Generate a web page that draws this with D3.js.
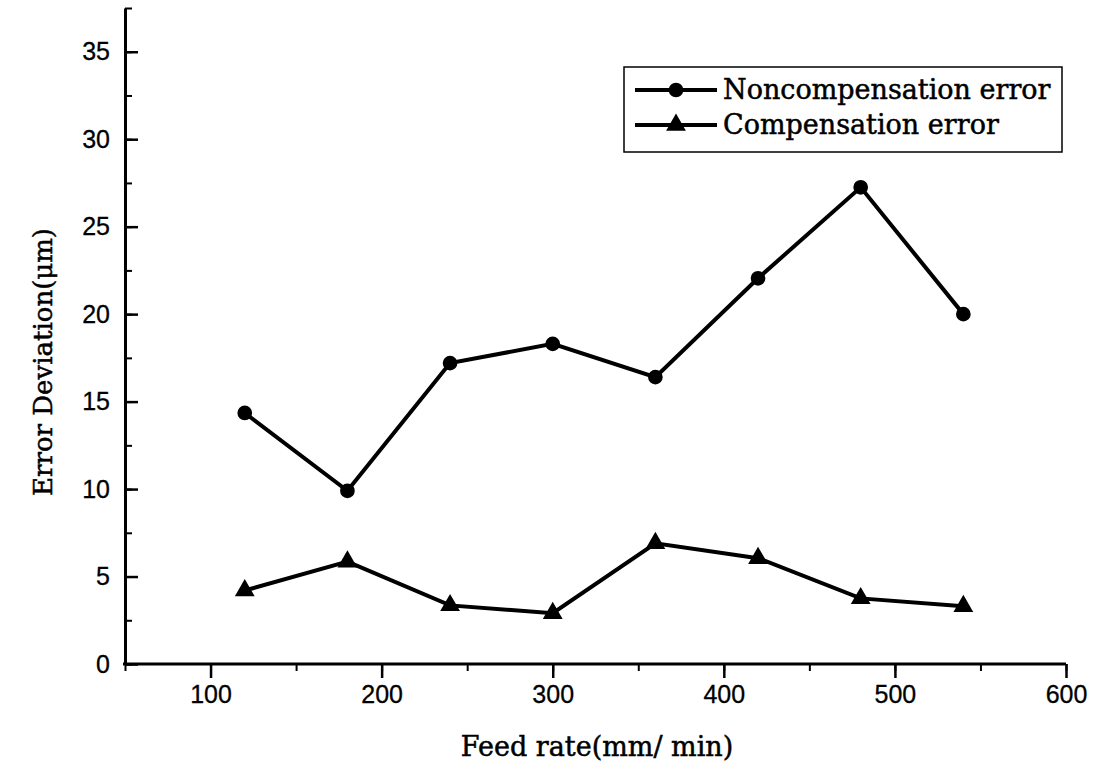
<!DOCTYPE html>
<meta charset="utf-8">
<script src="https://d3js.org/d3.v7.min.js"></script>
<style>
  body { margin: 0; background: #fff; }
  .tick text { font-family: "Liberation Sans", Arial, sans-serif; font-size: 25px; fill: #000; stroke: #000; stroke-width: 0.3px; }
  .domain, .tick line { stroke: #000; }
  .title { font-family: "DejaVu Serif", serif; fill: #000; stroke: #000; stroke-width: 0.5px; }
</style>
<div id="my_dataviz"></div>
<script>

// feed rates (mm/min)
var feedRates = [120, 180, 240, 300, 360, 420, 480, 540];
// error deviation (um)
var noncompError = [14.35, 9.9, 17.2, 18.3, 16.4, 22.05, 27.25, 20.0];
var compError    = [4.2, 5.85, 3.35, 2.9, 6.9, 6.05, 3.75, 3.3];

var seriesNames = ["Noncompensation error", "Compensation error"];
var xTicks = [100, 200, 300, 400, 500, 600];
var yTicks = [0, 5, 10, 15, 20, 25, 30, 35];

var width = 1114, height = 769;

var svg = d3.select("#my_dataviz")
  .append("svg")
    .attr("width", width)
    .attr("height", height);

var x = d3.scaleLinear().domain([50, 600]).range([125, 1066]);
var y = d3.scaleLinear().domain([0, 37.5]).range([664, 8]);

// minor ticks
svg.append("g")
  .attr("transform", "translate(0,664)")
  .call(d3.axisBottom(x).tickValues(d3.range(50, 601, 50)).tickSize(7).tickSizeOuter(0).tickFormat(""))
  .call(g => g.select(".domain").remove())
  .selectAll("line").attr("stroke-width", 2);
svg.append("g")
  .attr("transform", "translate(125,0)")
  .call(d3.axisLeft(y).tickValues(d3.range(0, 37.6, 2.5)).tickSize(-7).tickSizeOuter(0).tickFormat(""))
  .call(g => g.select(".domain").remove())
  .selectAll("line").attr("stroke-width", 2);

// X axis
svg.append("g")
  .attr("transform", "translate(0,664)")
  .call(d3.axisBottom(x).tickValues(xTicks).tickSize(14).tickSizeOuter(0).tickPadding(7))
  .call(g => g.select(".domain").attr("stroke-width", 3).attr("d", "M123,0H1066"))
  .call(g => g.selectAll(".tick line").attr("stroke-width", 2.5));

// Y axis
svg.append("g")
  .attr("transform", "translate(125,0)")
  .call(d3.axisLeft(y).tickValues(yTicks).tickSize(-13).tickSizeOuter(0).tickPadding(15))
  .call(g => g.select(".domain").attr("stroke-width", 3))
  .call(g => g.selectAll(".tick line").attr("stroke-width", 2.5));

// axis titles
svg.append("text")
  .attr("class", "title")
  .attr("x", 597)
  .attr("y", 756)
  .attr("text-anchor", "middle")
  .style("font-size", "27px")
  .text("Feed rate(mm/ min)");

svg.append("text")
  .attr("class", "title")
  .attr("transform", "translate(52,362) rotate(-90)")
  .attr("text-anchor", "middle")
  .style("font-size", "26px")
  .text("Error Deviation(\u03bcm)");

var line = d3.line()
  .x(function(d) { return x(d[0]); })
  .y(function(d) { return y(d[1]); });

var data1 = feedRates.map(function(f, i) { return [f, noncompError[i]]; });
var data2 = feedRates.map(function(f, i) { return [f, compError[i]]; });

svg.append("path")
  .datum(data1)
  .attr("fill", "none")
  .attr("stroke", "#000")
  .attr("stroke-width", 4)
  .attr("d", line);

svg.append("path")
  .datum(data2)
  .attr("fill", "none")
  .attr("stroke", "#000")
  .attr("stroke-width", 4)
  .attr("d", line);

var circleSym = d3.symbol().type(d3.symbolCircle).size(170);
var triSym = d3.symbol().type(d3.symbolTriangle).size(170);

svg.selectAll(".dot1")
  .data(data1)
  .enter()
  .append("path")
    .attr("class", "dot1")
    .attr("d", circleSym)
    .attr("transform", function(d) { return "translate(" + x(d[0]) + "," + y(d[1]) + ")"; })
    .attr("fill", "#000");

svg.selectAll(".dot2")
  .data(data2)
  .enter()
  .append("path")
    .attr("class", "dot2")
    .attr("d", triSym)
    .attr("transform", function(d) { return "translate(" + x(d[0]) + "," + y(d[1]) + ")"; })
    .attr("fill", "#000");

// legend
var legend = svg.append("g");
legend.append("rect")
  .attr("x", 624).attr("y", 67)
  .attr("width", 438).attr("height", 85)
  .attr("fill", "#fff")
  .attr("stroke", "#000")
  .attr("stroke-width", 1.5);

var syms = [circleSym, triSym];
seriesNames.forEach(function(name, i) {
  var ly = 90 + i * 35;
  legend.append("line")
    .attr("x1", 635).attr("x2", 717)
    .attr("y1", ly).attr("y2", ly)
    .attr("stroke", "#000").attr("stroke-width", 4);
  legend.append("path")
    .attr("d", syms[i])
    .attr("transform", "translate(676," + ly + ")")
    .attr("fill", "#000");
  legend.append("text")
    .attr("class", "title")
    .attr("x", 723).attr("y", ly + 9)
    .style("font-size", "27px")
    .text(name);
});

</script>
